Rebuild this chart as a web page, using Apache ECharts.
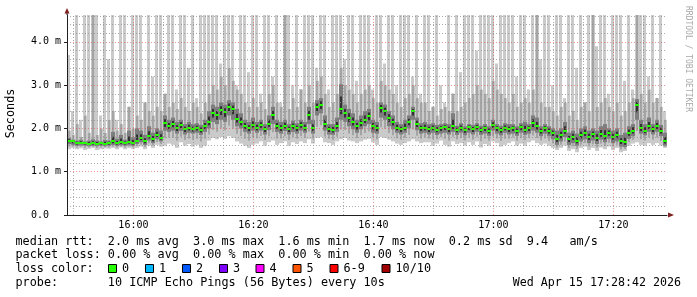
<!DOCTYPE html>
<html><head><meta charset="utf-8">
<script src="https://cdn.jsdelivr.net/npm/echarts@6/dist/echarts.min.js"></script>
<style>html,body{margin:0;padding:0;background:#fff}#c{width:697px;height:297px}</style>
</head><body><div id="c"></div>
<script>
// time in minutes after 15:00
const startMin = 48.93;
const spanMin = 100;
const stepMin = spanMin / 150;

// median rtt per step (ms)
const median = [
1.72,1.70,1.66,1.67,1.66,1.65,1.66,1.65,1.66,1.65,1.66,1.70,1.66,1.68,1.66,1.68,1.66,
1.72,1.78,1.70,1.82,1.75,1.85,1.78,
2.12,2.05,2.10,2.00,2.08,1.98,2.02,1.98,2.00,1.96,2.05,
2.15,2.35,2.30,2.42,2.38,2.50,2.45,2.22,2.15,2.05,2.00,2.08,
2.02,2.08,1.98,2.10,2.30,2.05,2.00,2.06,1.98,2.05,2.00,2.08,2.02,
2.30,2.00,2.50,2.55,2.10,1.98,1.96,2.05,2.45,2.35,2.25,2.15,2.05,2.12,2.20,2.28,2.05,2.00,2.48,2.40,2.25,2.15,2.02,1.98,2.02,2.15,2.40,2.10,2.00,2.02,
1.98,2.02,1.97,2.00,2.03,1.98,2.05,1.97,2.02,1.96,2.03,1.98,2.04,1.97,2.00,1.95,2.08,2.00,1.96,2.02,1.98,2.00,1.95,2.03,1.97,2.00,2.12,2.05,1.95,2.00,
1.95,1.90,1.75,1.85,1.95,1.75,1.80,1.72,1.85,1.90,1.80,1.86,1.78,1.88,1.82,1.90,1.80,1.85,1.70,1.68,1.90,1.95,2.55,2.00,1.95,2.05,1.98,2.05,1.95,1.70
];
// lowest ping per step (ms)
const smokeLow = [
1.52,1.55,1.52,1.54,1.50,1.53,1.55,1.50,1.52,1.54,1.53,1.55,1.52,1.56,1.52,1.55,1.53,
1.55,1.58,1.52,1.60,1.55,1.62,1.58,
1.60,1.65,1.62,1.55,1.68,1.60,1.64,1.58,1.62,1.55,1.60,
1.72,1.78,1.75,1.80,1.76,1.82,1.78,1.70,1.65,1.60,1.55,1.62,
1.65,1.70,1.60,1.68,1.72,1.62,1.66,1.70,1.60,1.68,1.64,1.70,1.66,
1.75,1.65,1.78,1.80,1.68,1.66,1.62,1.70,1.75,1.78,1.72,1.70,1.66,1.70,1.74,1.76,1.68,1.62,1.80,1.78,1.74,1.70,1.65,1.62,1.66,1.70,1.75,1.70,1.66,1.68,
1.68,1.60,1.65,1.72,1.62,1.58,1.70,1.64,1.66,1.60,1.68,1.62,1.70,1.56,1.64,1.60,1.70,1.66,1.58,1.62,1.66,1.70,1.60,1.65,1.60,1.68,1.72,1.66,1.62,1.65,
1.60,1.55,1.50,1.55,1.60,1.48,1.52,1.45,1.55,1.58,1.50,1.55,1.48,1.56,1.52,1.58,1.50,1.55,1.45,1.48,1.60,1.65,1.68,1.62,1.60,1.66,1.62,1.66,1.60,1.55
];
// inner (dark) smoke, lower and upper edge (ms)
const darkLow = [
1.64,1.62,1.60,1.61,1.60,1.59,1.60,1.59,1.60,1.59,1.60,1.62,1.60,1.61,1.60,1.62,1.60,
1.64,1.68,1.62,1.72,1.66,1.75,1.70,
1.95,1.92,1.95,1.88,1.94,1.86,1.90,1.88,1.90,1.85,1.92,
2.00,2.15,2.10,2.20,2.15,2.30,2.20,2.05,2.00,1.92,1.88,1.95,
1.90,1.95,1.86,1.96,2.10,1.92,1.88,1.94,1.86,1.92,1.88,1.95,1.90,
2.10,1.88,2.30,2.35,1.95,1.86,1.85,1.92,2.20,2.15,2.05,1.98,1.90,1.98,2.05,2.10,1.90,1.88,2.25,2.20,2.05,1.98,1.90,1.86,1.90,2.00,2.20,1.96,1.88,1.90,
1.86,1.90,1.85,1.88,1.90,1.86,1.92,1.85,1.90,1.84,1.90,1.86,1.92,1.85,1.88,1.83,1.95,1.88,1.84,1.90,1.86,1.88,1.83,1.90,1.85,1.88,1.95,1.90,1.82,1.88,
1.82,1.75,1.62,1.70,1.80,1.62,1.66,1.60,1.70,1.75,1.66,1.72,1.64,1.74,1.68,1.76,1.66,1.70,1.58,1.57,1.76,1.82,2.20,1.88,1.84,1.92,1.86,1.92,1.82,1.60
];
const darkHigh = [
1.78,1.74,1.72,1.74,1.70,1.72,1.75,1.72,1.70,1.73,1.72,1.92,1.76,1.85,1.74,1.95,1.80,
2.00,1.95,1.85,2.05,1.90,2.00,1.95,
2.30,2.20,2.25,2.15,2.20,2.10,2.15,2.10,2.12,2.08,2.20,
2.40,2.55,2.50,2.60,2.55,2.65,2.60,2.45,2.35,2.20,2.15,2.25,
2.15,2.20,2.10,2.30,2.50,2.20,2.15,2.20,2.10,2.18,2.12,2.20,2.15,
2.50,2.20,2.65,2.70,2.30,2.10,2.10,2.25,3.02,2.55,2.45,2.35,2.20,2.30,2.40,2.45,2.20,2.15,2.60,2.55,2.40,2.30,2.15,2.10,2.20,2.30,2.50,2.25,2.12,2.15,
2.10,2.12,2.08,2.10,2.12,2.10,2.35,2.06,2.12,2.05,2.10,2.08,2.12,2.06,2.10,2.05,2.20,2.10,2.06,2.12,2.10,2.10,2.05,2.12,2.15,2.10,2.30,2.25,2.05,2.10,
2.05,2.00,1.95,2.00,2.15,1.90,1.95,1.88,2.00,2.05,1.95,2.00,1.95,2.05,2.10,2.00,1.95,2.00,1.85,1.90,2.05,2.10,2.68,2.20,2.10,2.25,2.10,2.20,2.08,1.90
];
// middle smoke upper edge (ms)
const midHigh = [
1.95,1.85,2.10,1.80,2.30,1.90,4.62,1.85,2.00,1.90,2.20,2.40,1.95,2.10,1.90,2.50,2.00,
2.30,2.20,2.60,2.40,2.30,2.50,2.40,
2.80,2.50,2.60,2.45,2.70,2.50,2.40,2.60,2.50,2.35,2.60,
2.80,3.00,2.90,3.20,3.00,3.40,3.10,2.90,2.80,2.60,2.50,2.70,
2.50,2.60,2.45,2.80,3.00,2.60,2.50,4.62,2.45,2.70,2.50,2.90,2.60,
3.00,2.60,3.10,3.20,2.80,2.50,2.60,2.80,3.40,3.00,2.90,2.80,2.60,2.80,2.90,3.00,2.70,2.60,3.10,3.00,2.90,2.80,2.60,2.50,2.70,2.80,3.00,2.70,2.60,2.60,
2.40,2.50,2.30,2.45,2.50,2.40,2.80,2.40,2.50,2.60,2.70,2.80,3.00,2.90,2.80,2.70,3.10,2.90,2.80,2.70,2.60,2.80,2.50,2.60,2.70,2.60,2.90,4.62,2.60,2.50,
2.50,2.40,2.30,2.50,2.60,2.30,2.40,2.20,2.50,2.60,2.40,4.62,2.50,2.60,2.70,2.50,2.40,2.60,2.30,2.40,2.60,2.70,4.62,2.80,2.60,2.90,2.60,2.70,2.50,2.20
];
// highest ping per step (ms, 4.62 = off the top)
const smokeHigh = [
3.70,2.40,4.62,2.20,4.62,4.62,2.60,4.62,2.30,4.62,3.60,4.62,2.20,4.62,4.62,2.50,4.62,
4.62,4.62,2.60,4.62,3.20,4.62,4.62,2.80,4.62,4.62,2.90,4.62,4.62,3.40,4.62,2.70,4.62,4.62,
4.62,4.62,4.62,3.50,4.62,4.62,4.62,3.00,4.62,4.62,3.30,4.62,
4.62,2.80,4.62,4.62,3.20,4.62,2.60,4.62,4.62,3.00,4.62,2.70,4.62,
4.62,4.62,3.40,4.62,4.62,2.90,4.62,4.62,4.62,3.60,4.62,4.62,3.10,4.62,4.62,4.62,2.90,4.62,4.62,3.50,4.62,4.62,3.00,4.62,4.62,4.62,3.20,4.62,2.80,4.62,
4.62,2.50,4.62,3.00,2.60,4.62,2.40,4.62,3.30,4.62,4.62,4.62,3.80,4.62,4.62,4.62,4.62,3.50,4.62,4.62,4.62,4.62,3.20,4.62,4.62,2.90,4.62,4.62,3.60,4.62,
4.62,3.00,4.62,4.62,2.70,4.62,4.62,3.40,4.62,2.60,4.62,4.62,3.90,4.62,4.62,2.80,4.62,4.62,4.62,3.10,4.62,2.90,4.62,4.62,4.62,3.20,4.62,2.60,4.62,2.40
];

const yMax = 4.62;
const xLabelMinutes = [60, 80, 100, 120, 140];
const xMinorGrid = [50, 55, 65, 70, 75, 85, 90, 95, 105, 110, 115, 125, 130, 135, 145];
const yLabelValues = [0, 1, 2, 3, 4];
const yMajorGrid = [1, 2, 3, 4];
const yMinorGrid = [0.2,0.4,0.6,0.8,1.2,1.4,1.6,1.8,2.2,2.4,2.6,2.8,3.2,3.4,3.6,3.8,4.2,4.4,4.6];

const statLines = [
  'median rtt:  2.0 ms avg  3.0 ms max  1.6 ms min  1.7 ms now  0.2 ms sd  9.4   am/s',
  'packet loss: 0.00 % avg  0.00 % max  0.00 % min  0.00 % now'
];
const lossTitle = 'loss color:';
const lossLabels = ['0', '1', '2', '3', '4', '5', '6-9', '10/10'];
const lossColors = ['#26ff00', '#00b8ff', '#0059ff', '#7e00ff', '#ff00ff', '#ff5500', '#ff0000', '#a10000'];
const probeText = 'probe:       10 ICMP Echo Pings (56 Bytes) every 10s';
const dateText = 'Wed Apr 15 17:28:42 2026';
const yTitle = 'Seconds';
const watermark = 'RRDTOOL / TOBI OETIKER';

// layout
const boxX = [108, 145, 182, 219, 255.5, 292.5, 329.5, 381.5];
const MONO = '"DejaVu Sans Mono", "Liberation Mono", monospace';
const LF = 11.8;

const table = median.map((m, i) => [startMin + i * stepMin, smokeLow[i], darkLow[i], m, darkHigh[i], midHigh[i], smokeHigh[i]]);

function fmtTime(v) {
  const t = Math.round(v);
  const h = 15 + Math.floor(t / 60), mm = t % 60;
  return h + ':' + (mm < 10 ? '0' : '') + mm;
}

const chart = echarts.init(document.getElementById('c'), null, {renderer: 'canvas', width: 697, height: 297});

const graphics = [];
graphics.push({type: 'text', x: 11, y: 113.5, rotation: Math.PI / 2,
  style: {text: yTitle, font: LF + 'px ' + MONO, fill: '#000', align: 'center', verticalAlign: 'middle'}});
graphics.push({type: 'text', x: 688.5, y: 59, rotation: -Math.PI / 2,
  style: {text: watermark, font: '8px ' + MONO, fill: '#a8a8a8', align: 'center', verticalAlign: 'middle'}});
statLines.forEach((s, k) => {
  graphics.push({type: 'text', x: 15.5, y: 241.5 + k * 13.7,
    style: {text: s, font: LF + 'px ' + MONO, fill: '#000', align: 'left', verticalAlign: 'middle'}});
});
graphics.push({type: 'text', x: 15.5, y: 268.9,
  style: {text: lossTitle, font: LF + 'px ' + MONO, fill: '#000', align: 'left', verticalAlign: 'middle'}});
lossLabels.forEach((l, k) => {
  graphics.push({type: 'rect', shape: {x: boxX[k] + 0.5, y: 264.5, width: 8, height: 8},
    style: {fill: lossColors[k], stroke: '#000', lineWidth: 1}});
  graphics.push({type: 'text', x: boxX[k] + 14, y: 268.9,
    style: {text: l, font: LF + 'px ' + MONO, fill: '#000', align: 'left', verticalAlign: 'middle'}});
});
graphics.push({type: 'text', x: 15.5, y: 282.6,
  style: {text: probeText, font: LF + 'px ' + MONO, fill: '#000', align: 'left', verticalAlign: 'middle'}});
graphics.push({type: 'text', x: 681, y: 282.6,
  style: {text: dateText, font: (LF - 0.15) + 'px ' + MONO, fill: '#000', align: 'right', verticalAlign: 'middle'}});
// axis arrows
graphics.push({type: 'line', shape: {x1: 67, y1: 15, x2: 67, y2: 11}, style: {stroke: 'rgb(31,31,31)', lineWidth: 1}, z: 20});
graphics.push({type: 'polygon', shape: {points: [[64.5, 13.5], [69.5, 13.5], [67, 8]]}, style: {fill: 'rgb(128,31,31)'}, z: 21});
graphics.push({type: 'polygon', shape: {points: [[668, 212.5], [668, 217.5], [674, 215]]}, style: {fill: 'rgb(128,31,31)'}, z: 21});

function gridSeries(values, axisKey, color) {
  return {
    type: 'line', data: [[startMin, -1]], symbol: 'none', silent: true, z: 5,
    lineStyle: {opacity: 0}, animation: false,
    markLine: {
      silent: true, symbol: ['none', 'none'], animation: false, label: {show: false},
      lineStyle: {color: color, type: [1, 2], width: 1},
      data: values.map(v => ({[axisKey]: v}))
    }
  };
}

chart.setOption({
  backgroundColor: '#ffffff',
  animation: false,
  grid: {left: 67, top: 15, width: 600, height: 200, containLabel: false},
  graphic: graphics,
  xAxis: {
    type: 'value', min: startMin, max: startMin + spanMin, z: 10,
    axisLine: {lineStyle: {color: 'rgb(31,31,31)', width: 1}},
    axisTick: {show: false},
    splitLine: {show: false},
    axisLabel: {customValues: xLabelMinutes, formatter: fmtTime, color: '#000',
      fontFamily: MONO, fontSize: 10, margin: 10, verticalAlign: 'middle'}
  },
  yAxis: {
    type: 'value', min: 0, max: yMax, z: 10,
    axisLine: {show: true, lineStyle: {color: 'rgb(31,31,31)', width: 1}},
    axisTick: {show: true, customValues: yLabelValues, length: 3, lineStyle: {color: 'rgb(31,31,31)'}},
    splitLine: {show: false},
    axisLabel: {customValues: yLabelValues, color: '#000', fontFamily: MONO, fontSize: 10, margin: 6,
      formatter: v => v === 0 ? '0.0  ' : v.toFixed(1) + ' m'}
  },
  series: [
    {
      type: 'custom', clip: true, z: 2, silent: true,
      data: table,
      encode: {x: 0, y: [1, 2, 3, 4, 5, 6]},
      renderItem: function (params, api) {
        const t0 = api.value(0);
        const lo = api.value(1), dlo = api.value(2), med = api.value(3);
        const dhi = api.value(4), mhi = api.value(5), hi = api.value(6);
        const xa = Math.round(api.coord([t0, 0])[0]);
        const xb = Math.round(api.coord([t0 + stepMin, 0])[0]);
        const w = xb - xa;
        const y = v => api.coord([t0, v])[1];
        const band = (a, b, fill, ww, off) => ({type: 'rect', shape: {x: xa + (off || 0), y: y(b), width: ww, height: y(a) - y(b)}, style: {fill: fill}});
        const mlo = (lo + dlo) / 2;
        const ym = Math.round(y(med));
        return {type: 'group', children: [
          band(mhi, hi, '#cacaca', w - 1),
          band(lo, mhi, '#cacaca', w),
          band(mlo, mhi, '#a4a4a4', 2, 1),
          band(dlo, dhi, '#7e7e7e', w),
          band((dlo + med) / 2, (med + dhi) / 2, '#323232', 2, 1),
          {type: 'rect', shape: {x: xa, y: ym - 1, width: w, height: 2}, style: {fill: '#26ff00'}}
        ]};
      }
    },
    gridSeries(xMinorGrid, 'xAxis', 'rgba(143,143,143,0.75)'),
    gridSeries(yMinorGrid, 'yAxis', 'rgba(143,143,143,0.75)'),
    gridSeries(xLabelMinutes, 'xAxis', 'rgba(222,79,79,0.6)'),
    gridSeries(yMajorGrid, 'yAxis', 'rgba(222,79,79,0.6)')
  ]
});
</script>
</body></html>
